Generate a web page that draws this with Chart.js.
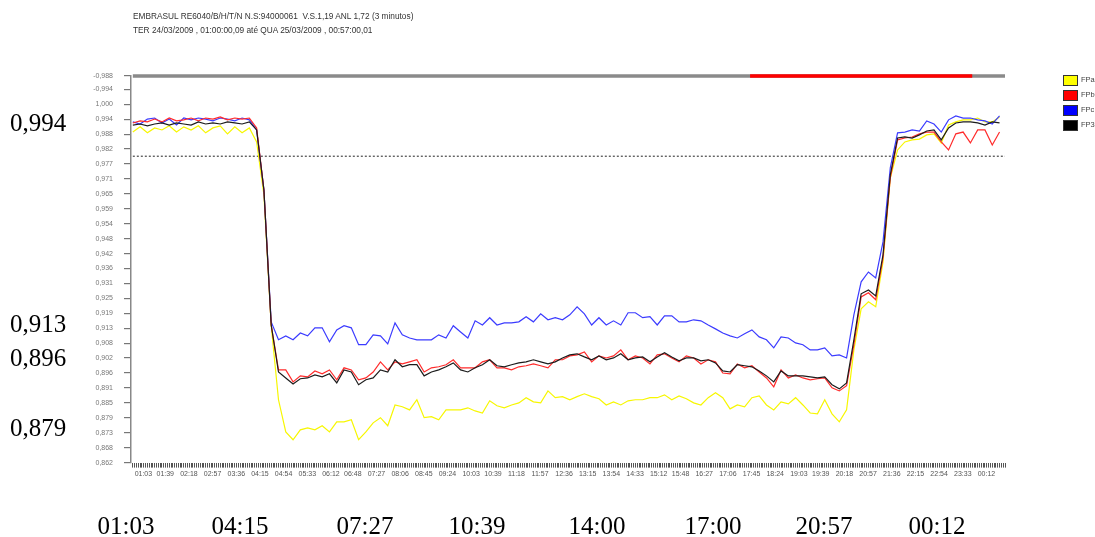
<!DOCTYPE html>
<html>
<head>
<meta charset="utf-8">
<script src="https://cdn.jsdelivr.net/npm/chart.js@4.4.1/dist/chart.umd.min.js"></script>
<style>
  html, body { margin: 0; padding: 0; background: #fff; }
  #wrap { position: relative; width: 1095px; height: 537px; overflow: hidden; background: #fff; }
  #c { position: absolute; left: 0; top: 0; }
  .hdr { position: absolute; left: 133px; font-family: 'Liberation Sans', Arial, sans-serif; font-size: 8.3px; color: #333; white-space: nowrap; line-height: 1; }
  .legBox { position: absolute; left: 1063px; width: 13px; height: 9px; border: 1px solid #333; }
  .legTxt { position: absolute; left: 1081px; font-family: 'Liberation Sans', Arial, sans-serif; font-size: 7.5px; color: #444; white-space: nowrap; line-height: 1; }
  .note { position: absolute; font-family: 'Liberation Serif', 'Times New Roman', serif; font-size: 25px; color: #000; white-space: nowrap; line-height: 1; }
</style>
</head>
<body>
<div id="wrap">
  <canvas id="c" width="1095" height="537"></canvas>
  <div class="hdr" style="top:12px">EMBRASUL RE6040/B/H/T/N N.S:94000061&nbsp; V.S.1,19 ANL 1,72 (3 minutos)</div>
  <div class="hdr" style="top:26px">TER 24/03/2009 , 01:00:00,09 até QUA 25/03/2009 , 00:57:00,01</div>
</div>
<script>
// Power factor per phase, one reading every 12 minutes from 01:00
const sampleStep = 12;
const fpA = [
  0.9893,0.9913,0.9890,0.9909,0.9901,0.9917,0.9893,0.9913,0.9901,0.9917,
  0.9890,0.9909,0.9917,0.9886,0.9913,0.9890,0.9909,0.9855,0.9651,0.9147,
  0.8862,0.8738,0.8708,0.8746,0.8754,0.8746,0.8762,0.8738,0.8777,0.8777,
  0.8785,0.8708,0.8738,0.8773,0.8793,0.8762,0.8842,0.8835,0.8823,0.8862,
  0.8793,0.8797,0.8785,0.8823,0.8823,0.8823,0.8831,0.8819,0.8811,0.8858,
  0.8839,0.8831,0.8842,0.8850,0.8870,0.8854,0.8850,0.8896,0.8870,0.8874,
  0.8862,0.8874,0.8885,0.8874,0.8866,0.8842,0.8854,0.8842,0.8858,0.8862,
  0.8862,0.8870,0.8870,0.8881,0.8862,0.8877,0.8866,0.8850,0.8842,0.8870,
  0.8889,0.8870,0.8827,0.8842,0.8835,0.8870,0.8877,0.8842,0.8823,0.8854,
  0.8846,0.8870,0.8842,0.8811,0.8808,0.8862,0.8808,0.8777,0.8823,0.9054,
  0.9212,0.9239,0.9220,0.9393,0.9716,0.9824,0.9855,0.9863,0.9866,0.9882,
  0.9886,0.9851,0.9920,0.9932,0.9940,0.9940,0.9947,0.9932,0.9932,0.9951
];
const fpB = [
  0.9928,0.9936,0.9932,0.9943,0.9932,0.9947,0.9936,0.9940,0.9947,0.9936,
  0.9947,0.9943,0.9951,0.9940,0.9947,0.9943,0.9947,0.9909,0.9670,0.9150,
  0.8977,0.8977,0.8931,0.8954,0.8950,0.8973,0.8962,0.8977,0.8939,0.8985,
  0.8977,0.8939,0.8946,0.8969,0.9008,0.8977,0.9008,0.9000,0.9008,0.9016,
  0.8969,0.8985,0.8989,0.8997,0.9016,0.8985,0.8985,0.8985,0.9008,0.9016,
  0.8985,0.8985,0.8977,0.8989,0.8993,0.9000,0.8993,0.8985,0.9016,0.9016,
  0.9031,0.9035,0.9046,0.9008,0.9031,0.9023,0.9031,0.9054,0.9016,0.9031,
  0.9023,0.9000,0.9035,0.9039,0.9023,0.9008,0.9031,0.9023,0.9000,0.9016,
  0.9008,0.8965,0.8962,0.9000,0.8985,0.8993,0.8969,0.8946,0.8912,0.8977,
  0.8946,0.8958,0.8946,0.8939,0.8943,0.8946,0.8908,0.8896,0.8916,0.9074,
  0.9258,0.9274,0.9247,0.9408,0.9716,0.9863,0.9870,0.9874,0.9886,0.9893,
  0.9893,0.9855,0.9824,0.9886,0.9893,0.9851,0.9901,0.9901,0.9843,0.9893
];
const fpC = [
  0.9932,0.9924,0.9943,0.9947,0.9928,0.9943,0.9920,0.9947,0.9940,0.9947,
  0.9943,0.9936,0.9947,0.9943,0.9936,0.9947,0.9940,0.9901,0.9670,0.9162,
  0.9093,0.9108,0.9093,0.9119,0.9108,0.9139,0.9139,0.9085,0.9131,0.9147,
  0.9139,0.9074,0.9074,0.9112,0.9108,0.9077,0.9158,0.9112,0.9100,0.9093,
  0.9093,0.9093,0.9112,0.9100,0.9147,0.9123,0.9100,0.9166,0.9150,0.9178,
  0.9150,0.9158,0.9158,0.9162,0.9182,0.9162,0.9193,0.9170,0.9178,0.9170,
  0.9189,0.9220,0.9193,0.9150,0.9178,0.9150,0.9166,0.9150,0.9197,0.9197,
  0.9178,0.9182,0.9150,0.9185,0.9185,0.9162,0.9162,0.9170,0.9166,0.9150,
  0.9135,0.9119,0.9108,0.9100,0.9116,0.9131,0.9104,0.9093,0.9062,0.9104,
  0.9100,0.9081,0.9074,0.9054,0.9054,0.9062,0.9031,0.9035,0.9023,0.9189,
  0.9316,0.9354,0.9331,0.9470,0.9755,0.9890,0.9893,0.9901,0.9897,0.9936,
  0.9924,0.9893,0.9940,0.9955,0.9947,0.9947,0.9940,0.9936,0.9924,0.9955
];
const fp3 = [
  0.9920,0.9924,0.9917,0.9924,0.9928,0.9920,0.9928,0.9924,0.9920,0.9932,
  0.9924,0.9928,0.9924,0.9932,0.9928,0.9924,0.9932,0.9901,0.9670,0.9150,
  0.8969,0.8946,0.8923,0.8943,0.8946,0.8958,0.8950,0.8962,0.8927,0.8977,
  0.8969,0.8920,0.8939,0.8946,0.8977,0.8969,0.9016,0.8989,0.8997,0.8997,
  0.8954,0.8969,0.8977,0.8989,0.9004,0.8977,0.8969,0.8985,0.8997,0.9016,
  0.8993,0.8989,0.8997,0.9004,0.9008,0.9016,0.9008,0.9000,0.9008,0.9023,
  0.9035,0.9039,0.9027,0.9016,0.9031,0.9016,0.9023,0.9039,0.9016,0.9023,
  0.9027,0.9008,0.9027,0.9043,0.9027,0.9012,0.9023,0.9023,0.9012,0.9016,
  0.9004,0.8973,0.8969,0.8997,0.8993,0.8989,0.8973,0.8954,0.8931,0.8973,
  0.8954,0.8954,0.8954,0.8950,0.8946,0.8950,0.8920,0.8904,0.8927,0.9093,
  0.9270,0.9285,0.9262,0.9420,0.9728,0.9870,0.9874,0.9870,0.9882,0.9897,
  0.9901,0.9863,0.9909,0.9928,0.9932,0.9932,0.9928,0.9920,0.9932,0.9928
];

// Reference limit and the status strip along the top of the plot
const limitPF = 0.980;
const statusLevel = 1.0109;
const recordEnd = '00:57';
const alarmStart = '17:57';
const alarmEnd = '00:03';

// Axis labels
const xTickLabels = ['01:03','01:39','02:18','02:57','03:36','04:15','04:54','05:33','06:12','06:48',
  '07:27','08:06','08:45','09:24','10:03','10:39','11:18','11:57','12:36','13:15','13:54','14:33',
  '15:12','15:48','16:27','17:06','17:45','18:24','19:03','19:39','20:18','20:57','21:36','22:15',
  '22:54','23:33','00:12'];
const yTickValues = [1.011,1.00575,1.000,0.99425,0.9885,0.98275,0.977,0.97125,0.9655,0.95975,0.954,
  0.94825,0.9425,0.93675,0.931,0.92525,0.9195,0.91375,0.908,0.90225,0.8965,0.89075,0.885,0.87925,
  0.8735,0.86775,0.862];
const yTickLabels = ['-0,988','-0,994','1,000','0,994','0,988','0,982','0,977','0,971','0,965','0,959',
  '0,954','0,948','0,942','0,936','0,931','0,925','0,919','0,913','0,908','0,902','0,896','0,891',
  '0,885','0,879','0,873','0,868','0,862'];

// Legend entries and the larger annotations printed around the chart
const legendNames = ['FPa','FPb','FPc','FP3φ'];
const legendColors = ['#ffff00','#ff0000','#0000ff','#000000'];
const sideValues = ['0,994','0,913','0,896','0,879'];
const sideTimes = ['01:03','04:15','07:27','10:39','14:00','17:00','20:57','00:12'];

// Page layout for the overlay text
const sideValueTops = [122, 323, 357, 427];
const sideTimeCenters = [126, 240, 365, 477, 597, 713, 824, 937];

function minutesFrom(label) {
  const [h, m] = label.split(':').map(Number);
  return ((h * 60 + m) - 60 + 1440) % 1440;
}
const xMax = minutesFrom(recordEnd);
const labelAt = {};
xTickLabels.forEach(l => { labelAt[minutesFrom(l)] = l; });
const asPoints = arr => arr.map((v, i) => ({ x: i * sampleStep, y: v }));

const wrap = document.getElementById('wrap');
legendNames.forEach((name, i) => {
  const b = document.createElement('div');
  b.className = 'legBox';
  b.style.top = (75 + i * 15) + 'px';
  b.style.background = legendColors[i];
  wrap.appendChild(b);
  const t = document.createElement('div');
  t.className = 'legTxt';
  t.style.top = (76 + i * 15) + 'px';
  t.textContent = name;
  wrap.appendChild(t);
});
sideValues.forEach((txt, i) => {
  const d = document.createElement('div');
  d.className = 'note';
  d.style.left = '10px';
  d.style.top = sideValueTops[i] + 'px';
  d.style.transform = 'translateY(-50%)';
  d.textContent = txt;
  wrap.appendChild(d);
});
sideTimes.forEach((txt, i) => {
  const d = document.createElement('div');
  d.className = 'note';
  d.style.left = sideTimeCenters[i] + 'px';
  d.style.top = '525px';
  d.style.transform = 'translate(-50%,-50%)';
  d.textContent = txt;
  wrap.appendChild(d);
});

const line = (label, data, color, order) => ({
  label, data: asPoints(data), borderColor: color, backgroundColor: color,
  borderWidth: 1.2, pointRadius: 0, tension: 0, order
});

new Chart(document.getElementById('c'), {
  type: 'line',
  data: {
    datasets: [
      line('FP3φ', fp3, '#1c1c1c', 0),
      line('FPb', fpB, '#ff2b2b', 1),
      line('FPc', fpC, '#3b3bff', 2),
      line('FPa', fpA, '#f7f700', 3),
      {
        label: 'limite', data: [{ x: 0, y: limitPF }, { x: xMax, y: limitPF }],
        borderColor: '#222', borderWidth: 1, borderDash: [2, 2], pointRadius: 0, order: 5
      },
      {
        label: 'alarme', data: [{ x: minutesFrom(alarmStart), y: statusLevel }, { x: minutesFrom(alarmEnd), y: statusLevel }],
        borderColor: '#ff0000', borderWidth: 3.5, pointRadius: 0, clip: false, order: 6
      },
      {
        label: 'estado', data: [{ x: 0, y: statusLevel }, { x: xMax, y: statusLevel }],
        borderColor: '#8a8a8a', borderWidth: 3.5, pointRadius: 0, clip: false, order: 7
      }
    ]
  },
  options: {
    responsive: false,
    animation: false,
    devicePixelRatio: 1,
    layout: { padding: { left: 0, right: 90, top: 75.7, bottom: 54.4 } },
    plugins: { legend: { display: false }, tooltip: { enabled: false }, title: { display: false } },
    scales: {
      x: {
        type: 'linear', min: -3, max: xMax,
        afterBuildTicks: s => {
          const t = [];
          for (let m = 0; m <= xMax; m += 3) t.push({ value: m });
          s.ticks = t;
        },
        afterFit: s => { s.height = 20; },
        ticks: {
          autoSkip: false, maxRotation: 0, minRotation: 0, align: 'start', padding: 2,
          color: '#555', font: { family: 'Liberation Sans', size: 7 },
          callback: v => labelAt[v] || ''
        },
        grid: { drawOnChartArea: false, drawTicks: true, tickLength: 5, color: '#555', lineWidth: 1 },
        border: { display: false }
      },
      y: {
        type: 'linear', min: 0.862, max: 1.011,
        afterBuildTicks: s => { s.ticks = yTickValues.map(v => ({ value: v })); },
        afterFit: s => { s.width = 131; },
        ticks: {
          autoSkip: false, padding: 11, color: '#777',
          font: { family: 'Liberation Sans', size: 7 },
          callback: (v, i) => yTickLabels[i]
        },
        grid: { drawOnChartArea: false, tickLength: 7, color: '#777', lineWidth: 1.2 },
        border: { color: '#888', width: 1.5 }
      }
    }
  }
});
</script>
</body>
</html>
